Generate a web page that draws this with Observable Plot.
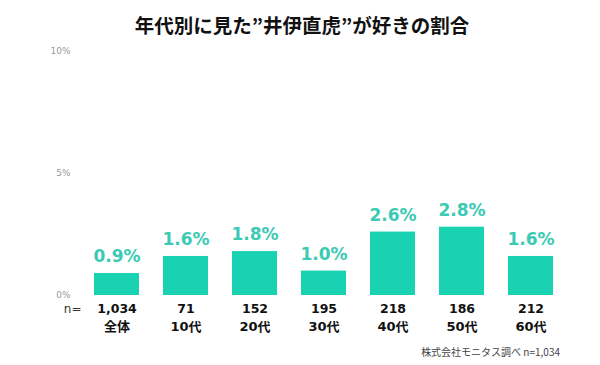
<!DOCTYPE html>
<html>
<head>
<meta charset="utf-8">
<script src="https://cdn.jsdelivr.net/npm/d3@7"></script>
<script src="https://cdn.jsdelivr.net/npm/@observablehq/plot@0.6"></script>
<style>
  html, body { margin: 0; padding: 0; background: #fff; }
  #wrap { position: relative; width: 600px; height: 365px; overflow: hidden; }
  #title { position: absolute; top: 10px; left: 0; width: 604px; text-align: center;
    font-family: "Noto Sans CJK JP", sans-serif; font-weight: bold; font-size: 19.5px; line-height: 30px; color: #111; }
  #chart { position: absolute; top: 40px; left: 0; }
  #caption { position: absolute; top: 342px; right: 40px; font-family: "Noto Sans CJK JP", sans-serif;
    font-size: 10px; line-height: 20px; color: #444; }
</style>
</head>
<body>
<div id="wrap">
  <div id="title">年代別に見た”井伊直虎”が好きの割合</div>
  <div id="chart"></div>
  <div id="caption">株式会社モニタス調べ n=1,034</div>
</div>
<script>
const categories = ["全体", "10代", "20代", "30代", "40代", "50代", "60代"];
const sampleSizes = [1034, 71, 152, 195, 218, 186, 212];
const percents = [0.9, 1.6, 1.8, 1.0, 2.6, 2.8, 1.6];
const yTicks = [0, 5, 10];

const data = categories.map((c, i) => ({cat: c, n: sampleSizes[i], pct: percents[i]}));
const numFont = "'DejaVu Sans', 'Noto Sans CJK JP', sans-serif";

const chart = Plot.plot({
  width: 600,
  height: 300,
  marginTop: 11,
  marginBottom: 45,
  marginLeft: 82,
  marginRight: 35,
  style: {fontFamily: numFont, background: "transparent"},
  x: {domain: categories, paddingInner: 0.35, paddingOuter: 0.175, axis: null},
  y: {domain: [0, 10], axis: null},
  marks: [
    Plot.axisY({ticks: yTicks, tickSize: 0, tickPadding: 12, tickFormat: d => d + "%",
      fontSize: 9, fill: "#999", label: null}),
    Plot.barY(data, {x: "cat", y: "pct", fill: "#18d2b2"}),
    Plot.text(data, {x: "cat", y: "pct", text: d => d.pct.toFixed(1) + "%", dy: -17,
      fill: "#3ccab4", fontSize: 17, fontWeight: "bold", fontFamily: numFont}),
    Plot.text(data, {x: "cat", frameAnchor: "bottom", dy: 17, text: d => d.n.toLocaleString("en-US"),
      fill: "#111", fontSize: 12.5, fontWeight: "bold", fontFamily: numFont}),
    Plot.text(data, {x: "cat", frameAnchor: "bottom", dy: 35, text: "cat",
      fill: "#111", fontSize: 13, fontWeight: "bold", fontFamily: numFont}),
    Plot.text(["n="], {frameAnchor: "bottom-left", textAnchor: "end", dx: -1, dy: 17, text: d => d,
      fill: "#333", fontSize: 12, fontFamily: numFont})
  ]
});
document.getElementById("chart").appendChild(chart);
</script>
</body>
</html>
